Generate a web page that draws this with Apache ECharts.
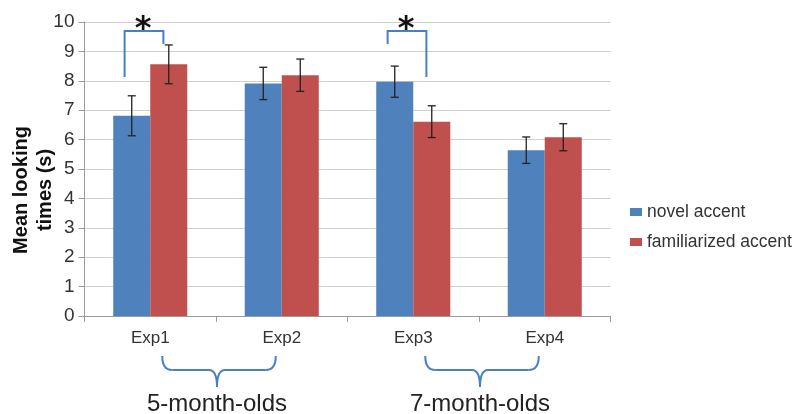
<!DOCTYPE html>
<html>
<head>
<meta charset="utf-8">
<script src="https://cdn.jsdelivr.net/npm/echarts@6/dist/echarts.min.js"></script>
<style>html,body{margin:0;padding:0;background:#fff;}#c{width:798px;height:414px;}</style>
</head>
<body>
<div id="c"></div>
<script>
var categories = ['Exp1', 'Exp2', 'Exp3', 'Exp4'];
var seriesNames = ['novel accent', 'familiarized accent'];
var novel = [6.81, 7.91, 7.97, 5.64];
var novelErr = [0.68, 0.55, 0.53, 0.45];
var familiar = [8.56, 8.19, 6.61, 6.08];
var familiarErr = [0.66, 0.55, 0.54, 0.46];
// significance brackets: category index, left leg bottom, right leg bottom, top
var sigCategory = [0, 2];
var sigLeftBottom = [8.13, 9.25];
var sigRightBottom = [9.25, 8.13];
var sigTop = [9.69, 9.69];
var groupLabels = ['5-month-olds', '7-month-olds'];
var groupStart = [0, 2];
var groupEnd = [1, 3];
var yAxisTitle = 'Mean looking\ntimes (s)';

var BLUE = '#4F81BD', RED = '#C0504D';
var GAP = 0.437;
var FONT = 'Liberation Sans';
var chart = echarts.init(document.getElementById('c'));

function errItem(offsetSign, errArr, valArr) {
  return function (params, api) {
    var i = api.value(0);
    var band = api.size([1, 0])[0];
    var bw = band * (1 - GAP) / 2;
    var c = api.coord([i, valArr[i]]);
    var x = c[0] + offsetSign * bw / 2;
    var top = api.coord([i, valArr[i] + errArr[i]])[1];
    var bot = api.coord([i, valArr[i] - errArr[i]])[1];
    var cap = 4;
    var st = {stroke: '#222', lineWidth: 1.3};
    return {type: 'group', children: [
      {type: 'line', shape: {x1: x, y1: top, x2: x, y2: bot}, style: st},
      {type: 'line', shape: {x1: x - cap, y1: top, x2: x + cap, y2: top}, style: st},
      {type: 'line', shape: {x1: x - cap, y1: bot, x2: x + cap, y2: bot}, style: st}
    ]};
  };
}

var option = {
  animation: false,
  backgroundColor: '#fff',
  grid: {left: 84.5, right: 187.5, top: 22, bottom: 98, containLabel: false, outerBoundsMode: 'none'},
  legend: {
    orient: 'vertical', left: 625, top: 198,
    itemWidth: 12, itemHeight: 8, itemGap: 12,
    icon: 'rect',
    data: seriesNames,
    textStyle: {fontSize: 17.5, color: '#333', fontFamily: FONT}
  },
  xAxis: {
    type: 'category', data: categories,
    axisLine: {lineStyle: {color: '#9a9a9a'}},
    axisTick: {show: true, length: 6, lineStyle: {color: '#9a9a9a'}},
    axisLabel: {fontSize: 17, color: '#333', margin: 14, fontFamily: FONT}
  },
  yAxis: {
    type: 'value', min: 0, max: 10, interval: 1,
    axisLine: {show: true, lineStyle: {color: '#9a9a9a'}},
    axisTick: {show: true, length: 6, lineStyle: {color: '#9a9a9a'}},
    axisLabel: {fontSize: 19, color: '#333', margin: 10, fontFamily: FONT},
    splitLine: {lineStyle: {color: '#cfcfcf', width: 1.2}}
  },
  series: [
    {name: seriesNames[0], type: 'bar', data: novel, barGap: '0%', barCategoryGap: (GAP * 100) + '%', itemStyle: {color: BLUE}},
    {name: seriesNames[1], type: 'bar', data: familiar, barGap: '0%', barCategoryGap: (GAP * 100) + '%', itemStyle: {color: RED}},
    {type: 'custom', renderItem: errItem(-1, novelErr, novel), data: categories.map(function (c, i) { return [i]; }), z: 5, silent: true},
    {type: 'custom', renderItem: errItem(1, familiarErr, familiar), data: categories.map(function (c, i) { return [i]; }), z: 5, silent: true}
  ]
};
chart.setOption(option);

var elements = [];
var BR = '#4a7fc7';
var brStyle = {stroke: BR, lineWidth: 2, fill: null};
elements.push({type: 'text', x: 33, y: 190, rotation: Math.PI / 2,
  style: {text: yAxisTitle, font: 'bold 20px "' + FONT + '"', fill: '#111', align: 'center', verticalAlign: 'middle', lineHeight: 24}, z: 10});
sigCategory.forEach(function (ci, k) {
  var cx = chart.convertToPixel({xAxisIndex: 0}, ci);
  var band = chart.convertToPixel({xAxisIndex: 0}, 1) - chart.convertToPixel({xAxisIndex: 0}, 0);
  var lx = cx - band * 0.195, rx = cx + band * 0.10;
  var yt = chart.convertToPixel({yAxisIndex: 0}, sigTop[k]);
  var yl = chart.convertToPixel({yAxisIndex: 0}, sigLeftBottom[k]);
  var yr = chart.convertToPixel({yAxisIndex: 0}, sigRightBottom[k]);
  elements.push({type: 'polyline', shape: {points: [[lx, yl], [lx, yt], [rx, yt], [rx, yr]]}, style: brStyle, z: 10});
  elements.push({type: 'text', x: (lx + rx) / 2 - 1, y: yt - 1, style: {text: '*', font: 'bold 32px "DejaVu Sans"', fill: '#111', align: 'center', verticalAlign: 'middle'}, z: 10});
});
groupLabels.forEach(function (g, k) {
  var a = chart.convertToPixel({xAxisIndex: 0}, groupStart[k]);
  var b = chart.convertToPixel({xAxisIndex: 0}, groupEnd[k]);
  var L = a + 12, R = b - 6, C = (a + b) / 2 + 1;
  var y0 = 356, y1 = 370, y2 = 387;
  elements.push({type: 'bezierCurve', shape: {x1: L, y1: y0, x2: L + 10, y2: y1, cpx1: L, cpy1: y1}, style: brStyle, z: 10});
  elements.push({type: 'line', shape: {x1: L + 10, y1: y1, x2: C - 8, y2: y1}, style: brStyle, z: 10});
  elements.push({type: 'bezierCurve', shape: {x1: C - 8, y1: y1, x2: C, y2: y2, cpx1: C, cpy1: y1}, style: brStyle, z: 10});
  elements.push({type: 'bezierCurve', shape: {x1: C + 8, y1: y1, x2: C, y2: y2, cpx1: C, cpy1: y1}, style: brStyle, z: 10});
  elements.push({type: 'line', shape: {x1: C + 8, y1: y1, x2: R - 10, y2: y1}, style: brStyle, z: 10});
  elements.push({type: 'bezierCurve', shape: {x1: R - 10, y1: y1, x2: R, y2: y0, cpx1: R, cpy1: y1}, style: brStyle, z: 10});
  elements.push({type: 'text', x: C, y: 404, style: {text: g, font: '24px "' + FONT + '"', fill: '#222', align: 'center', verticalAlign: 'middle'}, z: 10});
});
chart.setOption({graphic: {elements: elements}});
</script>
</body>
</html>
